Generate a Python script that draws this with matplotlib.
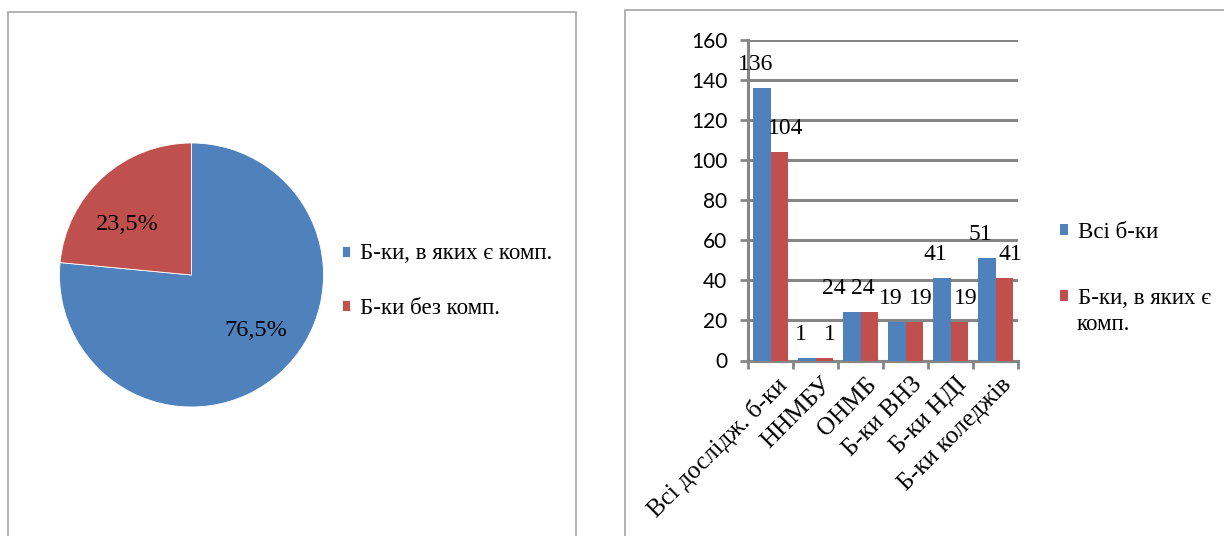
import matplotlib
matplotlib.use("Agg")
import matplotlib.pyplot as plt
from matplotlib.patches import Rectangle
import numpy as np

# pie data
pie_labels = ["Б-ки, в яких є комп.", "Б-ки без комп."]
pie_values = [76.5, 23.5]

# bar data
categories = ["Всі дослідж. б-ки", "ННМБУ", "ОНМБ", "Б-ки ВНЗ", "Б-ки НДІ", "Б-ки коледжів"]
all_libs = [136, 1, 24, 19, 41, 51]
with_comp = [104, 1, 24, 19, 19, 41]
series_names = ["Всі б-ки", "Б-ки, в яких є\nкомп."]

BLUE = "#4F81BD"
RED = "#C0504D"
GRID = "#868686"
SERIF = ["Liberation Serif", "DejaVu Serif"]
SANS = ["Lato", "DejaVu Sans"]

W, H = 1224, 536
fig = plt.figure(figsize=(W / 100, H / 100), dpi=100)


def px(x0, y0, w, h):
    # pixel box (top-left origin) -> figure fraction rect
    return [x0 / W, (H - y0 - h) / H, w / W, h / H]


# panel borders
for (x0, y0, x1) in [(8, 12, 576), (625, 10, 1240)]:
    fig.add_artist(Rectangle((x0 / W, -0.05), (x1 - x0) / W, (H - y0) / H + 0.05,
                             transform=fig.transFigure, fill=False,
                             edgecolor="#A6A6A6", linewidth=1.2))

# ---- pie ----
cx, cy, r = 191.5, 275, 132
ax1 = fig.add_axes(px(cx - r, cy - r, 2 * r, 2 * r))
wedges, texts, autotexts = ax1.pie(
    pie_values, colors=[BLUE, RED], startangle=90, counterclock=False,
    autopct=lambda p: f"{p:.1f}%".replace(".", ","),
    wedgeprops=dict(edgecolor="white", linewidth=0.6),
    textprops=dict(family=SERIF, fontsize=17.5, color="black"))
# excel-ish label spots
autotexts[0].set_position((0.49, -0.42))
autotexts[1].set_position((-0.49, 0.38))
ax1.set_xlim(-1, 1)
ax1.set_ylim(-1, 1)
ax1.set_aspect("equal")
ax1.legend(wedges, pie_labels, loc="center left",
           bbox_to_anchor=(342 / W, (H - 281) / H), bbox_transform=fig.transFigure,
           frameon=False, borderpad=0, borderaxespad=0,
           handlelength=0.36, handleheight=0.36, handletextpad=0.42,
           labelspacing=1.45, prop=dict(family=SERIF, size=16.5))

# ---- bars ----
ax2 = fig.add_axes(px(748, 40, 270, 320.5))
x = np.arange(len(categories))
bw = 0.39
legend_lines = [s.split("\n")[0] for s in series_names]
b1 = ax2.bar(x - bw / 2, all_libs, bw, color=BLUE, label=legend_lines[0], zorder=3)
b2 = ax2.bar(x + bw / 2, with_comp, bw, color=RED, label=legend_lines[1], zorder=3)
ax2.set_xlim(-0.5, len(categories) - 0.5)
ax2.set_ylim(0, 160)
ax2.set_yticks(range(0, 161, 20))
ax2.yaxis.grid(True, color=GRID, linewidth=2.2, zorder=0)
ax2.set_axisbelow(True)
for s in ["top", "right"]:
    ax2.spines[s].set_visible(False)
for s in ["left", "bottom"]:
    ax2.spines[s].set_color(GRID)
    ax2.spines[s].set_linewidth(2.2)
ax2.tick_params(axis="y", length=6, width=2, color=GRID, pad=9, labelsize=15)
for lab in ax2.get_yticklabels():
    lab.set_family(SANS)
ax2.set_xticks(np.arange(-0.5, len(categories)))
ax2.set_xticklabels([])
ax2.tick_params(axis="x", length=6, width=2, color=GRID)

# ОНМБ labels sit a bit to the left in the original, so they don't hit the next group
group_shift = {2: -12}
for bars, nudge in ((b1, -6), (b2, 6)):
    for i, rect in enumerate(bars):
        v = rect.get_height()
        ax2.annotate(f"{v:g}", (rect.get_x() + rect.get_width() / 2, v),
                     xytext=(nudge + group_shift.get(i, 0), 24), textcoords="offset pixels",
                     ha="center", va="center", family=SERIF, fontsize=17)

for i, name in enumerate(categories):
    ax2.annotate(name, (i, 0), xytext=(5, -13), textcoords="offset pixels",
                 rotation=45, rotation_mode="anchor", ha="right", va="top",
                 family=SERIF, fontsize=18, annotation_clip=False)

leg = ax2.legend(loc="center left", bbox_to_anchor=(1060 / W, (H - 265.5) / H),
                 bbox_transform=fig.transFigure, frameon=False, borderpad=0,
                 borderaxespad=0, handlelength=0.36, handleheight=0.36,
                 handletextpad=0.42, labelspacing=1.98,
                 prop=dict(family=SERIF, size=16.5))
# second line of the wrapped legend label
fig.text(1077 / W, (H - 324) / H, series_names[1].split("\n")[1],
         ha="left", va="center", family=SERIF, fontsize=16.5)

fig.savefig("out.png", dpi=100)
